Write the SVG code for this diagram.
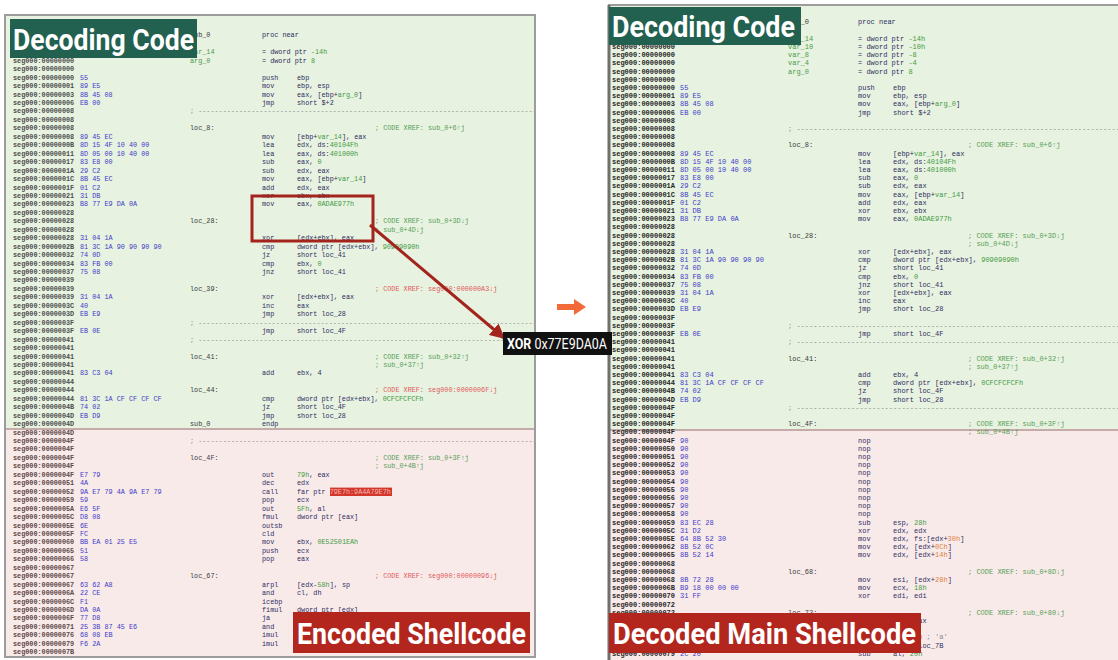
<svg xmlns="http://www.w3.org/2000/svg" width="1118" height="660" viewBox="0 0 1118 660">
<defs>
<style>
.code{font-family:"Liberation Mono","DejaVu Sans Mono",monospace}
.L{font-size:6.8px}
.R{font-size:7px}
.a{fill:#4e4e4e;font-weight:bold}
.ap{fill:#5e4848;font-weight:bold}
.ar{fill:#262626;font-weight:bold}
.b{fill:#3c3cc8}
.l{fill:#3a3a3a}
.v{fill:#4a9a4a}
.m{fill:#2e2e5e}
.o{fill:#2e2e5e}
.n{fill:#3f9a3f}
.k{fill:#e0803a}
.c{fill:#55a055}
.x{fill:#e05a5a}
.d{fill:#8a8a8a}
.title{font-family:Roboto,"Liberation Sans",sans-serif;font-weight:bold;fill:#ffffff}
.green{fill:#e8f2e1}
.pink{fill:#f9eaea}
</style>
<clipPath id="clipL"><rect x="6" y="16" width="528" height="640"/></clipPath>
<clipPath id="clipR"><rect x="609" y="6" width="509" height="654"/></clipPath>
<marker id="ah" viewBox="0 0 10 10" refX="9" refY="5" markerWidth="5" markerHeight="5" orient="auto" markerUnits="strokeWidth">
<path d="M0,0 L10,5 L0,10 z" fill="#a3241c"/>
</marker>
</defs>
<rect width="1118" height="660" fill="#ffffff"/>

<!-- left listing: encoded sample -->
<g id="left-panel">
<rect x="6" y="16" width="528" height="413" class="green"/>
<rect x="6" y="429" width="528" height="227" class="pink"/>
<line x1="6" y1="429" x2="534" y2="429" stroke="#b89494" stroke-width="1.5"/>
<rect x="5" y="15" width="530" height="642" fill="none" stroke="#9c9c9c" stroke-width="2"/>
<g class="code L" clip-path="url(#clipL)">
<text y="37.4"><tspan x="13" class="a">seg000:00000000</tspan><tspan x="190" class="l">sub_0</tspan><tspan x="262" class="m">proc near</tspan></text>
<text y="45.85"><tspan x="13" class="a">seg000:00000000</tspan></text>
<text y="54.3"><tspan x="13" class="a">seg000:00000000</tspan><tspan x="190" class="v">var_14</tspan><tspan x="262" class="m">= dword ptr </tspan><tspan class="n">-14h</tspan></text>
<text y="62.75"><tspan x="13" class="a">seg000:00000000</tspan><tspan x="190" class="v">arg_0</tspan><tspan x="262" class="m">= dword ptr  </tspan><tspan class="n">8</tspan></text>
<text y="71.2"><tspan x="13" class="a">seg000:00000000</tspan></text>
<text y="79.65"><tspan x="13" class="a">seg000:00000000</tspan><tspan x="80" class="b">55</tspan><tspan x="262" class="m">push</tspan><tspan x="297" class="o">ebp</tspan></text>
<text y="88.1"><tspan x="13" class="a">seg000:00000001</tspan><tspan x="80" class="b">89 E5</tspan><tspan x="262" class="m">mov</tspan><tspan x="297" class="o">ebp, esp</tspan></text>
<text y="96.55"><tspan x="13" class="a">seg000:00000003</tspan><tspan x="80" class="b">8B 45 08</tspan><tspan x="262" class="m">mov</tspan><tspan x="297" class="o">eax, [ebp+</tspan><tspan class="n">arg_0</tspan><tspan class="o">]</tspan></text>
<text y="105"><tspan x="13" class="a">seg000:00000006</tspan><tspan x="80" class="b">EB 00</tspan><tspan x="262" class="m">jmp</tspan><tspan x="297" class="o">short $+2</tspan></text>
<text y="113.45"><tspan x="13" class="a">seg000:00000008</tspan><tspan x="190" class="d">; ------------------------------------------------------------------------------------------</tspan></text>
<text y="121.9"><tspan x="13" class="a">seg000:00000008</tspan></text>
<text y="130.35"><tspan x="13" class="a">seg000:00000008</tspan><tspan x="190" class="l">loc_8:</tspan><tspan x="375" class="c">; CODE XREF: sub_0+6↑j</tspan></text>
<text y="138.8"><tspan x="13" class="a">seg000:00000008</tspan><tspan x="80" class="b">89 45 EC</tspan><tspan x="262" class="m">mov</tspan><tspan x="297" class="o">[ebp+</tspan><tspan class="n">var_14</tspan><tspan class="o">], eax</tspan></text>
<text y="147.25"><tspan x="13" class="a">seg000:0000000B</tspan><tspan x="80" class="b">8D 15 4F 10 40 00</tspan><tspan x="262" class="m">lea</tspan><tspan x="297" class="o">edx, ds:</tspan><tspan class="n">40104Fh</tspan></text>
<text y="155.7"><tspan x="13" class="a">seg000:00000011</tspan><tspan x="80" class="b">8D 05 00 10 40 00</tspan><tspan x="262" class="m">lea</tspan><tspan x="297" class="o">eax, ds:</tspan><tspan class="n">401000h</tspan></text>
<text y="164.15"><tspan x="13" class="a">seg000:00000017</tspan><tspan x="80" class="b">83 E8 00</tspan><tspan x="262" class="m">sub</tspan><tspan x="297" class="o">eax, </tspan><tspan class="n">0</tspan></text>
<text y="172.6"><tspan x="13" class="a">seg000:0000001A</tspan><tspan x="80" class="b">29 C2</tspan><tspan x="262" class="m">sub</tspan><tspan x="297" class="o">edx, eax</tspan></text>
<text y="181.05"><tspan x="13" class="a">seg000:0000001C</tspan><tspan x="80" class="b">8B 45 EC</tspan><tspan x="262" class="m">mov</tspan><tspan x="297" class="o">eax, [ebp+</tspan><tspan class="n">var_14</tspan><tspan class="o">]</tspan></text>
<text y="189.5"><tspan x="13" class="a">seg000:0000001F</tspan><tspan x="80" class="b">01 C2</tspan><tspan x="262" class="m">add</tspan><tspan x="297" class="o">edx, eax</tspan></text>
<text y="197.95"><tspan x="13" class="a">seg000:00000021</tspan><tspan x="80" class="b">31 DB</tspan><tspan x="262" class="m">xor</tspan><tspan x="297" class="o">ebx, ebx</tspan></text>
<text y="206.4"><tspan x="13" class="a">seg000:00000023</tspan><tspan x="80" class="b">B8 77 E9 DA 0A</tspan><tspan x="262" class="m">mov</tspan><tspan x="297" class="o">eax, </tspan><tspan class="n">0ADAE977h</tspan></text>
<text y="214.85"><tspan x="13" class="a">seg000:00000028</tspan></text>
<text y="223.3"><tspan x="13" class="a">seg000:00000028</tspan><tspan x="190" class="l">loc_28:</tspan><tspan x="375" class="c">; CODE XREF: sub_0+3D↓j</tspan></text>
<text y="231.75"><tspan x="13" class="a">seg000:00000028</tspan><tspan x="375" class="c">; sub_0+4D↓j</tspan></text>
<text y="240.2"><tspan x="13" class="a">seg000:00000028</tspan><tspan x="80" class="b">31 04 1A</tspan><tspan x="262" class="m">xor</tspan><tspan x="297" class="o">[edx+ebx], eax</tspan></text>
<text y="248.65"><tspan x="13" class="a">seg000:0000002B</tspan><tspan x="80" class="b">81 3C 1A 90 90 90 90</tspan><tspan x="262" class="m">cmp</tspan><tspan x="297" class="o">dword ptr [edx+ebx], </tspan><tspan class="n">90909090h</tspan></text>
<text y="257.1"><tspan x="13" class="a">seg000:00000032</tspan><tspan x="80" class="b">74 0D</tspan><tspan x="262" class="m">jz</tspan><tspan x="297" class="o">short loc_41</tspan></text>
<text y="265.55"><tspan x="13" class="a">seg000:00000034</tspan><tspan x="80" class="b">83 FB 00</tspan><tspan x="262" class="m">cmp</tspan><tspan x="297" class="o">ebx, </tspan><tspan class="n">0</tspan></text>
<text y="274"><tspan x="13" class="a">seg000:00000037</tspan><tspan x="80" class="b">75 08</tspan><tspan x="262" class="m">jnz</tspan><tspan x="297" class="o">short loc_41</tspan></text>
<text y="282.45"><tspan x="13" class="a">seg000:00000039</tspan></text>
<text y="290.9"><tspan x="13" class="a">seg000:00000039</tspan><tspan x="190" class="l">loc_39:</tspan><tspan x="375" class="x">; CODE XREF: seg000:000000A3↓j</tspan></text>
<text y="299.35"><tspan x="13" class="a">seg000:00000039</tspan><tspan x="80" class="b">31 04 1A</tspan><tspan x="262" class="m">xor</tspan><tspan x="297" class="o">[edx+ebx], eax</tspan></text>
<text y="307.8"><tspan x="13" class="a">seg000:0000003C</tspan><tspan x="80" class="b">40</tspan><tspan x="262" class="m">inc</tspan><tspan x="297" class="o">eax</tspan></text>
<text y="316.25"><tspan x="13" class="a">seg000:0000003D</tspan><tspan x="80" class="b">EB E9</tspan><tspan x="262" class="m">jmp</tspan><tspan x="297" class="o">short loc_28</tspan></text>
<text y="324.7"><tspan x="13" class="a">seg000:0000003F</tspan><tspan x="190" class="d">; ------------------------------------------------------------------------------------------</tspan></text>
<text y="333.15"><tspan x="13" class="a">seg000:0000003F</tspan><tspan x="80" class="b">EB 0E</tspan><tspan x="262" class="m">jmp</tspan><tspan x="297" class="o">short loc_4F</tspan></text>
<text y="341.6"><tspan x="13" class="a">seg000:00000041</tspan><tspan x="190" class="d">; ------------------------------------------------------------------------------------------</tspan></text>
<text y="350.05"><tspan x="13" class="a">seg000:00000041</tspan></text>
<text y="358.5"><tspan x="13" class="a">seg000:00000041</tspan><tspan x="190" class="l">loc_41:</tspan><tspan x="375" class="c">; CODE XREF: sub_0+32↑j</tspan></text>
<text y="366.95"><tspan x="13" class="a">seg000:00000041</tspan><tspan x="375" class="c">; sub_0+37↑j</tspan></text>
<text y="375.4"><tspan x="13" class="a">seg000:00000041</tspan><tspan x="80" class="b">83 C3 04</tspan><tspan x="262" class="m">add</tspan><tspan x="297" class="o">ebx, 4</tspan></text>
<text y="383.85"><tspan x="13" class="a">seg000:00000044</tspan></text>
<text y="392.3"><tspan x="13" class="a">seg000:00000044</tspan><tspan x="190" class="l">loc_44:</tspan><tspan x="375" class="x">; CODE XREF: seg000:0000006F↓j</tspan></text>
<text y="400.75"><tspan x="13" class="a">seg000:00000044</tspan><tspan x="80" class="b">81 3C 1A CF CF CF CF</tspan><tspan x="262" class="m">cmp</tspan><tspan x="297" class="o">dword ptr [edx+ebx], </tspan><tspan class="n">0CFCFCFCFh</tspan></text>
<text y="409.2"><tspan x="13" class="a">seg000:0000004B</tspan><tspan x="80" class="b">74 02</tspan><tspan x="262" class="m">jz</tspan><tspan x="297" class="o">short loc_4F</tspan></text>
<text y="417.65"><tspan x="13" class="a">seg000:0000004D</tspan><tspan x="80" class="b">EB D9</tspan><tspan x="262" class="m">jmp</tspan><tspan x="297" class="o">short loc_28</tspan></text>
<text y="426.1"><tspan x="13" class="a">seg000:0000004D</tspan><tspan x="190" class="l">sub_0</tspan><tspan x="262" class="m">endp</tspan></text>
<text y="434.55"><tspan x="13" class="ap">seg000:0000004D</tspan></text>
<text y="443"><tspan x="13" class="ap">seg000:0000004F</tspan><tspan x="190" class="d">; ------------------------------------------------------------------------------------------</tspan></text>
<text y="451.45"><tspan x="13" class="ap">seg000:0000004F</tspan></text>
<text y="459.9"><tspan x="13" class="ap">seg000:0000004F</tspan><tspan x="190" class="l">loc_4F:</tspan><tspan x="375" class="c">; CODE XREF: sub_0+3F↑j</tspan></text>
<text y="468.35"><tspan x="13" class="ap">seg000:0000004F</tspan><tspan x="375" class="c">; sub_0+4B↑j</tspan></text>
<text y="476.8"><tspan x="13" class="ap">seg000:0000004F</tspan><tspan x="80" class="b">E7 79</tspan><tspan x="262" class="m">out</tspan><tspan x="297" class="n">79h</tspan><tspan class="o">, eax</tspan></text>
<text y="485.25"><tspan x="13" class="ap">seg000:00000051</tspan><tspan x="80" class="b">4A</tspan><tspan x="262" class="m">dec</tspan><tspan x="297" class="o">edx</tspan></text>
<rect x="330" y="487.6" width="62" height="8.4" fill="#d3372c"/>
<text y="493.7"><tspan x="13" class="ap">seg000:00000052</tspan><tspan x="80" class="b">9A E7 79 4A 9A E7 79</tspan><tspan x="262" class="m">call</tspan><tspan x="297" class="o">far ptr </tspan><tspan fill="#f4b4ad">79E7h:9A4A79E7h</tspan></text>
<text y="502.15"><tspan x="13" class="ap">seg000:00000059</tspan><tspan x="80" class="b">59</tspan><tspan x="262" class="m">pop</tspan><tspan x="297" class="o">ecx</tspan></text>
<text y="510.6"><tspan x="13" class="ap">seg000:0000005A</tspan><tspan x="80" class="b">E6 5F</tspan><tspan x="262" class="m">out</tspan><tspan x="297" class="n">5Fh</tspan><tspan class="o">, al</tspan></text>
<text y="519.05"><tspan x="13" class="ap">seg000:0000005C</tspan><tspan x="80" class="b">D8 08</tspan><tspan x="262" class="m">fmul</tspan><tspan x="297" class="o">dword ptr [eax]</tspan></text>
<text y="527.5"><tspan x="13" class="ap">seg000:0000005E</tspan><tspan x="80" class="b">6E</tspan><tspan x="262" class="m">outsb</tspan></text>
<text y="535.95"><tspan x="13" class="ap">seg000:0000005F</tspan><tspan x="80" class="b">FC</tspan><tspan x="262" class="m">cld</tspan></text>
<text y="544.4"><tspan x="13" class="ap">seg000:00000060</tspan><tspan x="80" class="b">BB EA 01 25 E5</tspan><tspan x="262" class="m">mov</tspan><tspan x="297" class="o">ebx, </tspan><tspan class="n">0E52501EAh</tspan></text>
<text y="552.85"><tspan x="13" class="ap">seg000:00000065</tspan><tspan x="80" class="b">51</tspan><tspan x="262" class="m">push</tspan><tspan x="297" class="o">ecx</tspan></text>
<text y="561.3"><tspan x="13" class="ap">seg000:00000066</tspan><tspan x="80" class="b">58</tspan><tspan x="262" class="m">pop</tspan><tspan x="297" class="o">eax</tspan></text>
<text y="569.75"><tspan x="13" class="ap">seg000:00000067</tspan></text>
<text y="578.2"><tspan x="13" class="ap">seg000:00000067</tspan><tspan x="190" class="l">loc_67:</tspan><tspan x="375" class="x">; CODE XREF: seg000:00000096↓j</tspan></text>
<text y="586.65"><tspan x="13" class="ap">seg000:00000067</tspan><tspan x="80" class="b">63 62 A8</tspan><tspan x="262" class="m">arpl</tspan><tspan x="297" class="o">[edx-</tspan><tspan class="n">58h</tspan><tspan class="o">], sp</tspan></text>
<text y="595.1"><tspan x="13" class="ap">seg000:0000006A</tspan><tspan x="80" class="b">22 CE</tspan><tspan x="262" class="m">and</tspan><tspan x="297" class="o">cl, dh</tspan></text>
<text y="603.55"><tspan x="13" class="ap">seg000:0000006C</tspan><tspan x="80" class="b">F1</tspan><tspan x="262" class="m">icebp</tspan></text>
<text y="612"><tspan x="13" class="ap">seg000:0000006D</tspan><tspan x="80" class="b">DA 0A</tspan><tspan x="262" class="m">fimul</tspan><tspan x="297" class="o">dword ptr [edx]</tspan></text>
<text y="620.45"><tspan x="13" class="ap">seg000:0000006F</tspan><tspan x="80" class="b">77 D8</tspan><tspan x="262" class="m">ja</tspan></text>
<text y="628.9"><tspan x="13" class="ap">seg000:00000071</tspan><tspan x="80" class="b">25 3B 87 45 E6</tspan><tspan x="262" class="m">and</tspan></text>
<text y="637.35"><tspan x="13" class="ap">seg000:00000076</tspan><tspan x="80" class="b">68 08 EB</tspan><tspan x="262" class="m">imul</tspan></text>
<text y="645.8"><tspan x="13" class="ap">seg000:00000079</tspan><tspan x="80" class="b">F6 2A</tspan><tspan x="262" class="m">imul</tspan></text>
<text y="654.25"><tspan x="13" class="ap">seg000:0000007B</tspan></text>
</g>
</g>

<!-- right listing: decoded result -->
<g id="right-panel">
<rect x="609" y="6" width="509" height="424" class="green"/>
<rect x="609" y="430" width="509" height="230" class="pink"/>
<line x1="609" y1="430" x2="1118" y2="430" stroke="#b89494" stroke-width="1.5"/>
<line x1="608" y1="5" x2="1118" y2="5" stroke="#9c9c9c" stroke-width="2"/>
<line x1="609" y1="5" x2="609" y2="660" stroke="#6f6f6f" stroke-width="3"/>
<g class="code R" clip-path="url(#clipR)">
<text y="24.4"><tspan x="612" class="ar">seg000:00000000</tspan><tspan x="788" class="l">sub_0</tspan><tspan x="858" class="m">proc near</tspan></text>
<text y="32.6"><tspan x="612" class="ar">seg000:00000000</tspan></text>
<text y="40.8"><tspan x="612" class="ar">seg000:00000000</tspan><tspan x="788" class="v">var_14</tspan><tspan x="858" class="m">= dword ptr </tspan><tspan class="n">-14h</tspan></text>
<text y="49"><tspan x="612" class="ar">seg000:00000000</tspan><tspan x="788" class="v">var_10</tspan><tspan x="858" class="m">= dword ptr </tspan><tspan class="n">-10h</tspan></text>
<text y="57.2"><tspan x="612" class="ar">seg000:00000000</tspan><tspan x="788" class="v">var_8</tspan><tspan x="858" class="m">= dword ptr </tspan><tspan class="n">-8</tspan></text>
<text y="65.4"><tspan x="612" class="ar">seg000:00000000</tspan><tspan x="788" class="v">var_4</tspan><tspan x="858" class="m">= dword ptr </tspan><tspan class="n">-4</tspan></text>
<text y="73.6"><tspan x="612" class="ar">seg000:00000000</tspan><tspan x="788" class="v">arg_0</tspan><tspan x="858" class="m">= dword ptr  </tspan><tspan class="n">8</tspan></text>
<text y="81.8"><tspan x="612" class="ar">seg000:00000000</tspan></text>
<text y="90"><tspan x="612" class="ar">seg000:00000000</tspan><tspan x="680" class="b">55</tspan><tspan x="858" class="m">push</tspan><tspan x="893" class="o">ebp</tspan></text>
<text y="98.2"><tspan x="612" class="ar">seg000:00000001</tspan><tspan x="680" class="b">89 E5</tspan><tspan x="858" class="m">mov</tspan><tspan x="893" class="o">ebp, esp</tspan></text>
<text y="106.4"><tspan x="612" class="ar">seg000:00000003</tspan><tspan x="680" class="b">8B 45 08</tspan><tspan x="858" class="m">mov</tspan><tspan x="893" class="o">eax, [ebp+</tspan><tspan class="n">arg_0</tspan><tspan class="o">]</tspan></text>
<text y="114.6"><tspan x="612" class="ar">seg000:00000006</tspan><tspan x="680" class="b">EB 00</tspan><tspan x="858" class="m">jmp</tspan><tspan x="893" class="o">short $+2</tspan></text>
<text y="122.8"><tspan x="612" class="ar">seg000:00000008</tspan></text>
<text y="131"><tspan x="612" class="ar">seg000:00000008</tspan><tspan x="788" class="d">; ------------------------------------------------------------------------------------------</tspan></text>
<text y="139.2"><tspan x="612" class="ar">seg000:00000008</tspan></text>
<text y="147.4"><tspan x="612" class="ar">seg000:00000008</tspan><tspan x="788" class="l">loc_8:</tspan><tspan x="968" class="c">; CODE XREF: sub_0+6↑j</tspan></text>
<text y="155.6"><tspan x="612" class="ar">seg000:00000008</tspan><tspan x="680" class="b">89 45 EC</tspan><tspan x="858" class="m">mov</tspan><tspan x="893" class="o">[ebp+</tspan><tspan class="n">var_14</tspan><tspan class="o">], eax</tspan></text>
<text y="163.8"><tspan x="612" class="ar">seg000:0000000B</tspan><tspan x="680" class="b">8D 15 4F 10 40 00</tspan><tspan x="858" class="m">lea</tspan><tspan x="893" class="o">edx, ds:</tspan><tspan class="n">40104Fh</tspan></text>
<text y="172"><tspan x="612" class="ar">seg000:00000011</tspan><tspan x="680" class="b">8D 05 00 10 40 00</tspan><tspan x="858" class="m">lea</tspan><tspan x="893" class="o">eax, ds:</tspan><tspan class="n">401000h</tspan></text>
<text y="180.2"><tspan x="612" class="ar">seg000:00000017</tspan><tspan x="680" class="b">83 E8 00</tspan><tspan x="858" class="m">sub</tspan><tspan x="893" class="o">eax, </tspan><tspan class="n">0</tspan></text>
<text y="188.4"><tspan x="612" class="ar">seg000:0000001A</tspan><tspan x="680" class="b">29 C2</tspan><tspan x="858" class="m">sub</tspan><tspan x="893" class="o">edx, eax</tspan></text>
<text y="196.6"><tspan x="612" class="ar">seg000:0000001C</tspan><tspan x="680" class="b">8B 45 EC</tspan><tspan x="858" class="m">mov</tspan><tspan x="893" class="o">eax, [ebp+</tspan><tspan class="n">var_14</tspan><tspan class="o">]</tspan></text>
<text y="204.8"><tspan x="612" class="ar">seg000:0000001F</tspan><tspan x="680" class="b">01 C2</tspan><tspan x="858" class="m">add</tspan><tspan x="893" class="o">edx, eax</tspan></text>
<text y="213"><tspan x="612" class="ar">seg000:00000021</tspan><tspan x="680" class="b">31 DB</tspan><tspan x="858" class="m">xor</tspan><tspan x="893" class="o">ebx, ebx</tspan></text>
<text y="221.2"><tspan x="612" class="ar">seg000:00000023</tspan><tspan x="680" class="b">B8 77 E9 DA 0A</tspan><tspan x="858" class="m">mov</tspan><tspan x="893" class="o">eax, </tspan><tspan class="n">0ADAE977h</tspan></text>
<text y="229.4"><tspan x="612" class="ar">seg000:00000028</tspan></text>
<text y="237.6"><tspan x="612" class="ar">seg000:00000028</tspan><tspan x="788" class="l">loc_28:</tspan><tspan x="968" class="c">; CODE XREF: sub_0+3D↓j</tspan></text>
<text y="245.8"><tspan x="612" class="ar">seg000:00000028</tspan><tspan x="968" class="c">; sub_0+4D↓j</tspan></text>
<text y="254"><tspan x="612" class="ar">seg000:00000028</tspan><tspan x="680" class="b">31 04 1A</tspan><tspan x="858" class="m">xor</tspan><tspan x="893" class="o">[edx+ebx], eax</tspan></text>
<text y="262.2"><tspan x="612" class="ar">seg000:0000002B</tspan><tspan x="680" class="b">81 3C 1A 90 90 90 90</tspan><tspan x="858" class="m">cmp</tspan><tspan x="893" class="o">dword ptr [edx+ebx], </tspan><tspan class="n">90909090h</tspan></text>
<text y="270.4"><tspan x="612" class="ar">seg000:00000032</tspan><tspan x="680" class="b">74 0D</tspan><tspan x="858" class="m">jz</tspan><tspan x="893" class="o">short loc_41</tspan></text>
<text y="278.6"><tspan x="612" class="ar">seg000:00000034</tspan><tspan x="680" class="b">83 FB 00</tspan><tspan x="858" class="m">cmp</tspan><tspan x="893" class="o">ebx, </tspan><tspan class="n">0</tspan></text>
<text y="286.8"><tspan x="612" class="ar">seg000:00000037</tspan><tspan x="680" class="b">75 08</tspan><tspan x="858" class="m">jnz</tspan><tspan x="893" class="o">short loc_41</tspan></text>
<text y="295"><tspan x="612" class="ar">seg000:00000039</tspan><tspan x="680" class="b">31 04 1A</tspan><tspan x="858" class="m">xor</tspan><tspan x="893" class="o">[edx+ebx], eax</tspan></text>
<text y="303.2"><tspan x="612" class="ar">seg000:0000003C</tspan><tspan x="680" class="b">40</tspan><tspan x="858" class="m">inc</tspan><tspan x="893" class="o">eax</tspan></text>
<text y="311.4"><tspan x="612" class="ar">seg000:0000003D</tspan><tspan x="680" class="b">EB E9</tspan><tspan x="858" class="m">jmp</tspan><tspan x="893" class="o">short loc_28</tspan></text>
<text y="319.6"><tspan x="612" class="ar">seg000:0000003F</tspan></text>
<text y="327.8"><tspan x="612" class="ar">seg000:0000003F</tspan><tspan x="788" class="d">; ------------------------------------------------------------------------------------------</tspan></text>
<text y="336"><tspan x="612" class="ar">seg000:0000003F</tspan><tspan x="680" class="b">EB 0E</tspan><tspan x="858" class="m">jmp</tspan><tspan x="893" class="o">short loc_4F</tspan></text>
<text y="344.2"><tspan x="612" class="ar">seg000:00000041</tspan><tspan x="788" class="d">; ------------------------------------------------------------------------------------------</tspan></text>
<text y="352.4"><tspan x="612" class="ar">seg000:00000041</tspan></text>
<text y="360.6"><tspan x="612" class="ar">seg000:00000041</tspan><tspan x="788" class="l">loc_41:</tspan><tspan x="968" class="c">; CODE XREF: sub_0+32↑j</tspan></text>
<text y="368.8"><tspan x="612" class="ar">seg000:00000041</tspan><tspan x="968" class="c">; sub_0+37↑j</tspan></text>
<text y="377"><tspan x="612" class="ar">seg000:00000041</tspan><tspan x="680" class="b">83 C3 04</tspan><tspan x="858" class="m">add</tspan><tspan x="893" class="o">ebx, 4</tspan></text>
<text y="385.2"><tspan x="612" class="ar">seg000:00000044</tspan><tspan x="680" class="b">81 3C 1A CF CF CF CF</tspan><tspan x="858" class="m">cmp</tspan><tspan x="893" class="o">dword ptr [edx+ebx], </tspan><tspan class="n">0CFCFCFCFh</tspan></text>
<text y="393.4"><tspan x="612" class="ar">seg000:0000004B</tspan><tspan x="680" class="b">74 02</tspan><tspan x="858" class="m">jz</tspan><tspan x="893" class="o">short loc_4F</tspan></text>
<text y="401.6"><tspan x="612" class="ar">seg000:0000004D</tspan><tspan x="680" class="b">EB D9</tspan><tspan x="858" class="m">jmp</tspan><tspan x="893" class="o">short loc_28</tspan></text>
<text y="409.8"><tspan x="612" class="ar">seg000:0000004F</tspan><tspan x="788" class="d">; ------------------------------------------------------------------------------------------</tspan></text>
<text y="418"><tspan x="612" class="ar">seg000:0000004F</tspan></text>
<text y="426.2"><tspan x="612" class="ar">seg000:0000004F</tspan><tspan x="788" class="l">loc_4F:</tspan><tspan x="968" class="c">; CODE XREF: sub_0+3F↑j</tspan></text>
<text y="434.4"><tspan x="612" class="ar">seg000:0000004F</tspan><tspan x="968" class="c">; sub_0+4B↑j</tspan></text>
<text y="442.6"><tspan x="612" class="ar">seg000:0000004F</tspan><tspan x="680" class="b">90</tspan><tspan x="858" class="m">nop</tspan></text>
<text y="450.8"><tspan x="612" class="ar">seg000:00000050</tspan><tspan x="680" class="b">90</tspan><tspan x="858" class="m">nop</tspan></text>
<text y="459"><tspan x="612" class="ar">seg000:00000051</tspan><tspan x="680" class="b">90</tspan><tspan x="858" class="m">nop</tspan></text>
<text y="467.2"><tspan x="612" class="ar">seg000:00000052</tspan><tspan x="680" class="b">90</tspan><tspan x="858" class="m">nop</tspan></text>
<text y="475.4"><tspan x="612" class="ar">seg000:00000053</tspan><tspan x="680" class="b">90</tspan><tspan x="858" class="m">nop</tspan></text>
<text y="483.6"><tspan x="612" class="ar">seg000:00000054</tspan><tspan x="680" class="b">90</tspan><tspan x="858" class="m">nop</tspan></text>
<text y="491.8"><tspan x="612" class="ar">seg000:00000055</tspan><tspan x="680" class="b">90</tspan><tspan x="858" class="m">nop</tspan></text>
<text y="500"><tspan x="612" class="ar">seg000:00000056</tspan><tspan x="680" class="b">90</tspan><tspan x="858" class="m">nop</tspan></text>
<text y="508.2"><tspan x="612" class="ar">seg000:00000057</tspan><tspan x="680" class="b">90</tspan><tspan x="858" class="m">nop</tspan></text>
<text y="516.4"><tspan x="612" class="ar">seg000:00000058</tspan><tspan x="680" class="b">90</tspan><tspan x="858" class="m">nop</tspan></text>
<text y="524.6"><tspan x="612" class="ar">seg000:00000059</tspan><tspan x="680" class="b">83 EC 28</tspan><tspan x="858" class="m">sub</tspan><tspan x="893" class="o">esp, </tspan><tspan class="n">28h</tspan></text>
<text y="532.8"><tspan x="612" class="ar">seg000:0000005C</tspan><tspan x="680" class="b">31 D2</tspan><tspan x="858" class="m">xor</tspan><tspan x="893" class="o">edx, edx</tspan></text>
<text y="541"><tspan x="612" class="ar">seg000:0000005E</tspan><tspan x="680" class="b">64 8B 52 30</tspan><tspan x="858" class="m">mov</tspan><tspan x="893" class="o">edx, fs:[edx+</tspan><tspan class="k">30h</tspan><tspan class="o">]</tspan></text>
<text y="549.2"><tspan x="612" class="ar">seg000:00000062</tspan><tspan x="680" class="b">8B 52 0C</tspan><tspan x="858" class="m">mov</tspan><tspan x="893" class="o">edx, [edx+</tspan><tspan class="k">0Ch</tspan><tspan class="o">]</tspan></text>
<text y="557.4"><tspan x="612" class="ar">seg000:00000065</tspan><tspan x="680" class="b">8B 52 14</tspan><tspan x="858" class="m">mov</tspan><tspan x="893" class="o">edx, [edx+</tspan><tspan class="k">14h</tspan><tspan class="o">]</tspan></text>
<text y="565.6"><tspan x="612" class="ar">seg000:00000068</tspan></text>
<text y="573.8"><tspan x="612" class="ar">seg000:00000068</tspan><tspan x="788" class="l">loc_68:</tspan><tspan x="968" class="c">; CODE XREF: sub_0+8D↓j</tspan></text>
<text y="582"><tspan x="612" class="ar">seg000:00000068</tspan><tspan x="680" class="b">8B 72 28</tspan><tspan x="858" class="m">mov</tspan><tspan x="893" class="o">esi, [edx+</tspan><tspan class="k">28h</tspan><tspan class="o">]</tspan></text>
<text y="590.2"><tspan x="612" class="ar">seg000:0000006B</tspan><tspan x="680" class="b">B9 18 00 00 00</tspan><tspan x="858" class="m">mov</tspan><tspan x="893" class="o">ecx, </tspan><tspan class="n">18h</tspan></text>
<text y="598.4"><tspan x="612" class="ar">seg000:00000070</tspan><tspan x="680" class="b">31 FF</tspan><tspan x="858" class="m">xor</tspan><tspan x="893" class="o">edi, edi</tspan></text>
<text y="606.6"><tspan x="612" class="ar">seg000:00000072</tspan></text>
<text y="614.8"><tspan x="612" class="ar">seg000:00000072</tspan><tspan x="788" class="l">loc_72:</tspan><tspan x="968" class="c">; CODE XREF: sub_0+80↓j</tspan></text>
<text y="623"><tspan x="612" class="ar">seg000:00000072</tspan><tspan x="680" class="b">31 C0</tspan><tspan x="858" class="m">xor</tspan><tspan x="893" class="o">eax, eax</tspan></text>
<text y="631.2"><tspan x="612" class="ar">seg000:00000074</tspan><tspan x="680" class="b">AC</tspan><tspan x="858" class="m">lodsb</tspan></text>
<text y="639.4"><tspan x="612" class="ar">seg000:00000075</tspan><tspan x="680" class="b">3C 61</tspan><tspan x="858" class="m">cmp</tspan><tspan x="893" class="o">al, </tspan><tspan class="k">61h</tspan><tspan class="d"> ; 'a'</tspan></text>
<text y="647.6"><tspan x="612" class="ar">seg000:00000077</tspan><tspan x="680" class="b">7C 02</tspan><tspan x="858" class="m">jl</tspan><tspan x="893" class="o">short loc_7B</tspan></text>
<text y="655.8"><tspan x="612" class="ar">seg000:00000079</tspan><tspan x="680" class="b">2C 20</tspan><tspan x="858" class="m">sub</tspan><tspan x="893" class="o">al, </tspan><tspan class="n">20h</tspan></text>
</g>
</g>

<!-- highlight of the key load and the pointer to its value -->
<g id="connectors">
<rect x="252" y="196" width="121" height="45" fill="none" stroke="#a3241c" stroke-width="3"/>
<line x1="370" y1="225" x2="504" y2="338" stroke="#a3241c" stroke-width="3" marker-end="url(#ah)"/>
<path d="M557,304 L574,304 L574,299 L586,307 L574,315 L574,310 L557,310 Z" fill="#f26a3a"/>
</g>

<g id="xor-key">
<rect x="503" y="332" width="109" height="23" fill="#111111"/>
<text x="507" y="349" font-family="Roboto,'Liberation Sans',sans-serif" font-size="14" fill="#ffffff" textLength="100" lengthAdjust="spacingAndGlyphs"><tspan font-weight="bold">XOR</tspan> 0x77E9DA0A</text>
</g>

<g id="title-decoding-left">
<rect x="10" y="19" width="187" height="39" fill="#22604f"/>
<text x="13" y="49.5" class="title" font-size="29" textLength="181" lengthAdjust="spacingAndGlyphs">Decoding Code</text>
</g>
<g id="title-decoding-right">
<rect x="609" y="7" width="192" height="38" fill="#22604f"/>
<text x="612" y="37" class="title" font-size="29" textLength="183" lengthAdjust="spacingAndGlyphs">Decoding Code</text>
</g>
<g id="title-encoded">
<rect x="293" y="612" width="237" height="41" fill="#b3261e"/>
<text x="297" y="644" class="title" font-size="29" textLength="229" lengthAdjust="spacingAndGlyphs">Encoded Shellcode</text>
</g>
<g id="title-decoded">
<rect x="609" y="613" width="312" height="40" fill="#b3261e"/>
<text x="613" y="644" class="title" font-size="29" textLength="303" lengthAdjust="spacingAndGlyphs">Decoded Main Shellcode</text>
</g>
</svg>
